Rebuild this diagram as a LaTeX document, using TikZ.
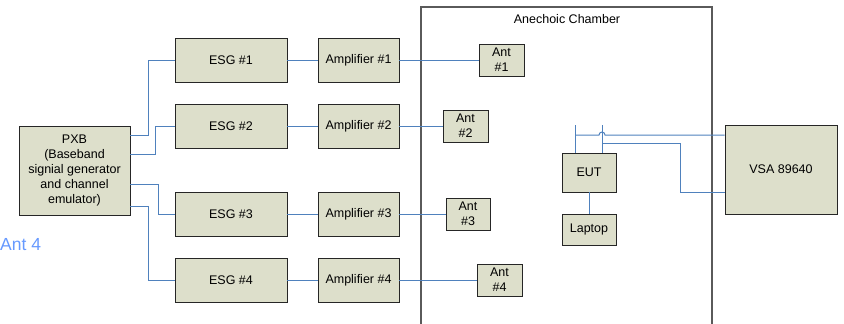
\documentclass[tikz,border=0pt]{standalone}
\usepackage{fontspec}
\setmainfont{Liberation Sans}
\usetikzlibrary{shadows,calc}
\definecolor{boxfill}{RGB}{221,223,203}
\definecolor{wire}{RGB}{79,129,189}
\definecolor{chamber}{RGB}{90,90,90}
\definecolor{antlabel}{RGB}{102,153,255}
\tikzset{
  blk/.style={draw=black!85, line width=0.9pt, fill=boxfill, inner sep=0pt, align=center,
    font=\fontsize{12.5}{15}\selectfont,
    drop shadow={shadow xshift=1.2pt, shadow yshift=-1.2pt, fill=black!35, opacity=1}},
  wireline/.style={draw=wire, line width=1pt},
}
\begin{document}
\begin{tikzpicture}[x=1pt,y=-1pt]
\useasboundingbox (0,0) rectangle (844,324);
% chamber
\draw[chamber, line width=1.4pt] (421,324) -- (421,7) -- (712,7) -- (712,324);
\node[font=\fontsize{12.5}{15}\selectfont] (title) at (567,19) {Anechoic Chamber};
% boxes
\node[blk, minimum width=111pt, minimum height=89pt] (pxb) at (74.5,170.5)
  {PXB\\(Baseband\\signial generator\\and channel\\emulator)};
\node[blk, minimum width=112pt, minimum height=44pt] (esg1) at (231,60) {ESG \#1};
\node[blk, minimum width=112pt, minimum height=44pt] (esg2) at (231,126) {ESG \#2};
\node[blk, minimum width=112pt, minimum height=44pt] (esg3) at (231,214) {ESG \#3};
\node[blk, minimum width=112pt, minimum height=44pt] (esg4) at (231,280) {ESG \#4};
\node[blk, minimum width=81pt, minimum height=44pt] (amp1) at (358.5,60) {Amplifier \#1};
\node[blk, minimum width=81pt, minimum height=44pt] (amp2) at (358.5,126) {Amplifier \#2};
\node[blk, minimum width=81pt, minimum height=44pt] (amp3) at (358.5,214) {Amplifier \#3};
\node[blk, minimum width=81pt, minimum height=44pt] (amp4) at (358.5,280) {Amplifier \#4};
\node[blk, minimum width=45pt, minimum height=32pt] (ant1) at (501.5,60) {Ant\\\#1};
\node[blk, minimum width=45pt, minimum height=32pt] (ant2) at (465.5,126) {Ant\\\#2};
\node[blk, minimum width=44pt, minimum height=32pt] (ant3) at (468,214) {Ant\\\#3};
\node[blk, minimum width=45pt, minimum height=32pt] (ant4) at (499.5,280) {Ant\\\#4};
\node[blk, minimum width=54pt, minimum height=39pt] (eut) at (589,172.5) {EUT};
\node[blk, minimum width=54pt, minimum height=31pt] (laptop) at (589,229.5) {Laptop};
\node[blk, minimum width=112pt, minimum height=89pt] (vsa) at (781,169.5) {VSA 89640};
\node[text=antlabel, font=\fontsize{17.5}{19}\selectfont, anchor=west, inner sep=0pt] (ant4lbl) at (0,245) {Ant 4};
% PXB to ESG
\draw[wireline] ([yshift=35.5pt]pxb.east) -- ++(18,0) |- (esg1.west);
\draw[wireline] ([yshift=16.5pt]pxb.east) -- ++(25,0) |- (esg2.west);
\draw[wireline] ([yshift=-13.5pt]pxb.east) -- ++(28,0) |- (esg3.west);
\draw[wireline] ([yshift=-35.5pt]pxb.east) -- ++(18,0) |- (esg4.west);
% ESG to amp to ant
\foreach \i in {1,2,3,4}{
  \draw[wireline] (esg\i.east) -- (amp\i.west);
  \draw[wireline] (amp\i.east) -- (ant\i.west);
}
% EUT
\coordinate (e1) at (575,125);
\coordinate (e2) at (602,125);
\draw[wireline] (e1) -- (e1 |- eut.north);
\draw[wireline] (e2) -- (e2 |- eut.north);
\coordinate (ja) at (575,135);
\coordinate (jb) at (602,143);
\draw[wireline] (ja) -- (599,135) arc[start angle=180, end angle=0, radius=3pt] -- ([yshift=34.5pt]vsa.west);
\draw[wireline] (jb) -- (680,143) |- ([yshift=-22.5pt]vsa.west);
\draw[wireline] (eut.south) -- (laptop.north);
\end{tikzpicture}
\end{document}
